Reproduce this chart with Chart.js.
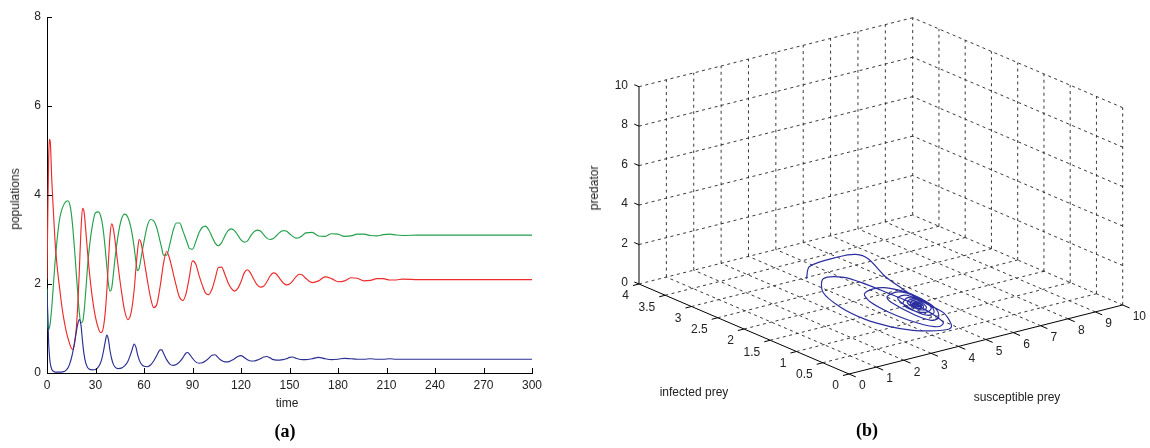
<!DOCTYPE html>
<html><head><meta charset="utf-8">
<script src="https://cdn.jsdelivr.net/npm/chart.js@4.4.1/dist/chart.umd.min.js"></script>
<style>
body{margin:0;background:#fff;width:1150px;height:448px;position:relative;overflow:hidden;font-family:"Liberation Sans",Arial,sans-serif;}
canvas{position:absolute;top:0}
#c1{left:0}#c2{left:575px}
.lbl{position:absolute;font-size:12px;color:#222;white-space:nowrap;transform:translate(-50%,-50%)}
.rot{transform:translate(-50%,-50%) rotate(-90deg)}
.cap{position:absolute;font-family:"Liberation Serif","DejaVu Serif",serif;font-weight:bold;font-size:18px;color:#000;transform:translate(-50%,-50%)}
</style></head>
<body>
<canvas id="c1" width="575" height="448"></canvas>
<canvas id="c2" width="575" height="448"></canvas>
<div class="lbl" style="left:287px;top:403px">time</div>
<div class="lbl rot" style="left:15px;top:199px">populations</div>
<div class="cap" style="left:285px;top:431px">(a)</div>
<div class="lbl rot" style="left:594px;top:188px">predator</div>
<div class="lbl" style="left:694px;top:392px">infected prey</div>
<div class="lbl" style="left:1017px;top:397px">susceptible prey</div>
<div class="cap" style="left:867px;top:430px">(b)</div>
<script>
// ---- data ----
const time = [0,0.5,1,1.5,2,3,4,5,6,7,8,9,10,11,12,13,14,15,16,17,18,19,20,21,22,23,24,25,26,28,30,32,33,34,35,36,37,38,39,40,41,42,44,46,48,50,52,54,55,56,57,58,60,62,64,66,68,70,71,72,74,76,78,80,82,84,86,87,88,90,92,94,96,98,100,102,104,106,108,110,112,114,116,118,120,122,124,126,128,130,132,134,136,138,140,142,144,146,148,150,152,154,156,158,160,164,168,172,176,180,184,188,192,196,200,204,208,212,216,220,230,240,250,260,270,280,290,300];
// green
const susceptible = [1.9,1.05,0.98,1.02,1.12,1.5,2.0,2.5,2.9,3.25,3.5,3.65,3.75,3.82,3.86,3.87,3.8,3.6,3.25,2.8,2.3,1.8,1.35,1.13,1.15,1.4,1.85,2.35,2.75,3.3,3.6,3.62,3.55,3.4,3.15,2.8,2.4,2.0,1.84,1.9,2.2,2.55,3.1,3.45,3.57,3.5,3.25,2.8,2.5,2.3,2.35,2.55,2.95,3.3,3.45,3.42,3.25,2.95,2.8,2.65,2.65,2.9,3.2,3.37,3.37,3.2,3.0,2.9,2.8,2.78,2.95,3.15,3.27,3.3,3.22,3.07,2.92,2.86,2.93,3.08,3.2,3.24,3.2,3.1,2.99,2.94,2.97,3.08,3.17,3.21,3.19,3.11,3.03,3.0,3.02,3.09,3.16,3.2,3.19,3.13,3.07,3.03,3.04,3.09,3.15,3.16,3.08,3.07,3.13,3.12,3.07,3.08,3.12,3.12,3.09,3.08,3.11,3.12,3.1,3.09,3.1,3.1,3.1,3.1,3.1,3.1,3.1,3.1];
// blue
const infected = [1.8,1.3,0.7,0.4,0.22,0.08,0.04,0.02,0.02,0.02,0.02,0.02,0.03,0.04,0.07,0.12,0.2,0.32,0.48,0.68,0.9,1.1,1.2,1.08,0.7,0.4,0.22,0.13,0.09,0.07,0.08,0.15,0.22,0.33,0.5,0.7,0.85,0.75,0.5,0.32,0.2,0.14,0.1,0.11,0.16,0.26,0.45,0.65,0.58,0.42,0.3,0.22,0.15,0.14,0.18,0.27,0.4,0.52,0.52,0.45,0.3,0.2,0.17,0.19,0.25,0.34,0.45,0.46,0.43,0.33,0.25,0.22,0.23,0.27,0.33,0.4,0.41,0.34,0.28,0.25,0.25,0.28,0.32,0.37,0.39,0.35,0.3,0.27,0.27,0.29,0.32,0.36,0.37,0.34,0.3,0.29,0.29,0.3,0.32,0.35,0.36,0.33,0.31,0.3,0.3,0.32,0.35,0.32,0.3,0.31,0.33,0.32,0.31,0.31,0.32,0.31,0.31,0.32,0.31,0.31,0.31,0.31,0.31,0.31,0.31,0.31,0.31,0.31];
// red
const predator = [2.1,3.6,4.8,5.25,5.2,4.3,3.6,2.95,2.5,2.15,1.85,1.55,1.3,1.1,0.92,0.78,0.66,0.56,0.53,0.65,0.95,1.5,2.3,3.2,3.7,3.6,3.2,2.75,2.35,1.7,1.25,0.98,0.91,0.92,1.05,1.35,1.85,2.5,3.1,3.35,3.25,3.0,2.4,1.85,1.4,1.2,1.35,1.9,2.35,2.75,3.0,2.95,2.55,2.1,1.7,1.47,1.55,1.95,2.2,2.45,2.73,2.55,2.25,1.95,1.7,1.63,1.78,1.95,2.15,2.52,2.45,2.2,1.98,1.8,1.76,1.88,2.12,2.37,2.38,2.22,2.03,1.9,1.84,1.9,2.05,2.25,2.32,2.24,2.1,1.98,1.93,1.95,2.05,2.18,2.25,2.22,2.12,2.03,1.98,2.0,2.07,2.16,2.22,2.2,2.13,2.03,2.07,2.16,2.12,2.05,2.07,2.14,2.13,2.07,2.08,2.12,2.12,2.09,2.09,2.11,2.1,2.1,2.1,2.1,2.1,2.1,2.1,2.1];
const timeTicks = [0,30,60,90,120,150,180,210,240,270,300];
const popTicks = [0,2,4,6,8];
const sTicks = [0,1,2,3,4,5,6,7,8,9,10];
const iTicks = [0,0.5,1,1.5,2,2.5,3,3.5,4];
const zTicks = [0,2,4,6,8,10];

const FONT = {family:'"Liberation Sans", Arial, sans-serif', size:12};
const TXT = '#222';

// ---- (a) time series ----
const innerTicks = {id:'innerTicks', afterDatasetsDraw(chart){
  const {ctx, chartArea:a, scales:{x,y}} = chart;
  ctx.save(); ctx.strokeStyle='#000'; ctx.lineWidth=1; ctx.beginPath();
  timeTicks.forEach(t=>{const px=Math.round(x.getPixelForValue(t))+0.5; ctx.moveTo(px,a.bottom); ctx.lineTo(px,a.bottom-5);});
  popTicks.forEach(v=>{const py=Math.round(y.getPixelForValue(v))+0.5; ctx.moveTo(a.left,py); ctx.lineTo(a.left+5,py);});
  ctx.stroke(); ctx.restore();
}};
const series = (vals,color)=>({data: time.map((t,k)=>({x:t,y:vals[k]})), borderColor:color, borderWidth:1.15, pointRadius:0, cubicInterpolationMode:'monotone', fill:false});
new Chart(document.getElementById('c1'), {
  type:'line',
  data:{datasets:[series(infected,'#2b2f92'), series(predator,'#ee2a2a'), series(susceptible,'#22a04b')]},
  options:{responsive:false, animation:false, devicePixelRatio:1,
    layout:{padding:{top:17,right:43,left:0,bottom:0}},
    plugins:{legend:{display:false}, tooltip:{enabled:false}},
    scales:{
      x:{type:'linear', min:0, max:300, afterFit(s){s.height=75;},
         grid:{display:false, drawTicks:false}, border:{display:true,color:'#000',width:1},
         ticks:{stepSize:30, autoSkip:false, maxRotation:0, padding:5, color:TXT, font:FONT}},
      y:{type:'linear', min:0, max:8, afterFit(s){s.width=47;},
         grid:{display:false, drawTicks:false}, border:{display:true,color:'#000',width:1},
         ticks:{stepSize:2, padding:6, color:TXT, font:FONT}}
    }},
  plugins:[innerTicks]
});

// ---- (b) 3-D phase portrait, projected onto the plane ----
const sMax = sTicks[sTicks.length-1], iMax = iTicks[iTicks.length-1], zMax = zTicks[zTicks.length-1];
const proj = (s,i,z)=>({x: s*27.37 - i*52.5, y: s*6.9 + i*22.5 + z*19.73});
const line = (a,b,dash)=>({data:[proj(...a),proj(...b)], showLine:true, pointRadius:0, tension:0,
  borderColor: dash?'#222':'#000', borderWidth: dash?0.9:1, borderDash: dash?[3,3.5]:[]});
const ds3 = [];
ds3.push({data: time.map((t,k)=>proj(susceptible[k], infected[k], predator[k])), showLine:true, pointRadius:0,
  borderColor:'#2b2fa0', borderWidth:1.2, tension:0.3});
// floor grid
sTicks.slice(1).forEach(s=>ds3.push(line([s,0,0],[s,iMax,0],true)));
iTicks.slice(1).forEach(i=>ds3.push(line([0,i,0],[sMax,i,0],true)));
// back wall (infected = max)
sTicks.slice(1).forEach(s=>ds3.push(line([s,iMax,0],[s,iMax,zMax],true)));
zTicks.slice(1).forEach(z=>ds3.push(line([0,iMax,z],[sMax,iMax,z],true)));
// side wall (susceptible = max)
iTicks.slice(0,-1).forEach(i=>ds3.push(line([sMax,i,0],[sMax,i,zMax],true)));
zTicks.slice(1).forEach(z=>ds3.push(line([sMax,0,z],[sMax,iMax,z],true)));
// axes
ds3.push(line([0,iMax,0],[0,iMax,zMax],false));
ds3.push(line([0,0,0],[0,iMax,0],false));
ds3.push(line([0,0,0],[sMax,0,0],false));
// tick marks
zTicks.forEach(z=>ds3.push(line([0,iMax,z],[0,iMax+0.09,z],false)));
iTicks.forEach(i=>ds3.push(line([0,i,0],[-0.22,i,0],false)));
sTicks.forEach(s=>ds3.push(line([s,0,0],[s,-0.13,0],false)));

const labels3d = {id:'labels3d', afterDraw(chart){
  const {ctx, scales:{x,y}} = chart;
  ctx.save(); ctx.font='12px "Liberation Sans", Arial, sans-serif'; ctx.fillStyle=TXT; ctx.textBaseline='middle';
  const P=(s,i,z)=>{const p=proj(s,i,z); return [x.getPixelForValue(p.x), y.getPixelForValue(p.y)];};
  ctx.textAlign='right';
  zTicks.forEach(z=>{const [px,py]=P(0,iMax,z); ctx.fillText(String(z), px-11, py-1);});
  iTicks.forEach(i=>{const [px,py]=P(0,i,0); ctx.fillText(String(i), px-10, py+12);});
  ctx.textAlign='left';
  sTicks.forEach(s=>{const [px,py]=P(s,0,0); ctx.fillText(String(s), px+10, py+12);});
  ctx.restore();
}};
new Chart(document.getElementById('c2'), {
  type:'scatter',
  data:{datasets:ds3},
  options:{responsive:false, animation:false, devicePixelRatio:1,
    layout:{padding:0},
    plugins:{legend:{display:false}, tooltip:{enabled:false}},
    scales:{x:{type:'linear', display:false, min:-274, max:301},
            y:{type:'linear', display:false, min:-74, max:374}}},
  plugins:[labels3d]
});
</script>
</body></html>
